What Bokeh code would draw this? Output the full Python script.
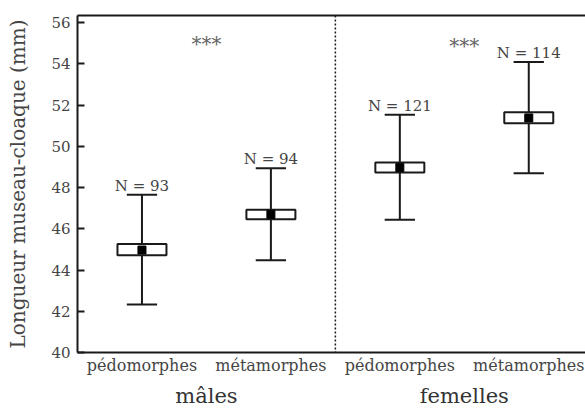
from bokeh.plotting import figure
from bokeh.models import (FixedTicker, LinearAxis, Span, Range1d, ColumnDataSource)
from bokeh.embed import file_html
from bokeh.resources import INLINE

# ---- data ----
categories = ["pédomorphes", "métamorphes", "pédomorphes", "métamorphes"]
groups = ["mâles", "femelles"]
means = [44.97, 46.70, 48.97, 51.38]
box_low = [44.72, 46.47, 48.73, 51.12]
box_high = [45.26, 46.93, 49.22, 51.66]
whisker_low = [42.33, 44.47, 46.44, 48.70]
whisker_high = [47.65, 48.94, 51.53, 54.10]
n_labels = ["N = 93", "N = 94", "N = 121", "N = 114"]
sig_labels = ["***", "***"]
sig_y = [55.2, 55.1]
y_ticks = [40, 42, 44, 46, 48, 50, 52, 54, 56]

FONT = "DejaVu Serif"
TXT = "#454545"
INK = "#1a1a1a"
CAP = 0.235
BOXW = 0.38

x_pos = [i + 0.5 for i in range(len(categories))]
group_pos = [1.0, 3.0]

src = ColumnDataSource(dict(
    x=x_pos, mean=means, blo=box_low, bhi=box_high,
    wlo=whisker_low, whi=whisker_high, n=n_labels,
    cl=[x - CAP / 2 for x in x_pos], cr=[x + CAP / 2 for x in x_pos],
    bl=[x - BOXW / 2 for x in x_pos], br=[x + BOXW / 2 for x in x_pos],
))

p = figure(width=585, height=410, output_backend="svg", toolbar_location=None,
           x_range=Range1d(0, 3.94), y_range=Range1d(40, 56.35),
           min_border_left=77, min_border_right=0, min_border_top=15,
           min_border_bottom=57, outline_line_color=None,
           background_fill_color="white", border_fill_color="white")
p.grid.visible = False

# left axis
ya = p.yaxis[0]
ya.ticker = FixedTicker(ticks=y_ticks)
ya.major_tick_in = 7
ya.major_tick_out = 0
ya.minor_tick_line_color = None
ya.axis_line_width = 2
ya.axis_line_color = INK
ya.major_tick_line_width = 2
ya.major_tick_line_color = INK
ya.major_label_text_font = FONT
ya.major_label_text_font_size = "15px"
ya.major_label_text_color = TXT
ya.major_label_standoff = 7
ya.axis_label = "Longueur museau-cloaque (mm)"
ya.axis_label_text_font = FONT
ya.axis_label_text_font_size = "20px"
ya.axis_label_text_font_style = "normal"
ya.axis_label_text_color = TXT
ya.axis_label_standoff = 18

# bottom axis (categories)
xa = p.xaxis[0]
xa.ticker = FixedTicker(ticks=x_pos)
xa.major_label_overrides = {x: c for x, c in zip(x_pos, categories)}
xa.major_tick_in = 0
xa.major_tick_out = 0
xa.minor_tick_line_color = None
xa.axis_line_width = 2
xa.axis_line_color = INK
xa.major_label_text_font = FONT
xa.major_label_text_font_size = "16px"
xa.major_label_text_color = TXT
xa.major_label_standoff = 3

# second bottom axis (groups)
ga = LinearAxis(ticker=FixedTicker(ticks=group_pos),
                major_label_overrides={x: g for x, g in zip(group_pos, groups)})
ga.axis_line_color = None
ga.major_tick_line_color = None
ga.major_tick_in = 0
ga.major_tick_out = 0
ga.minor_tick_line_color = None
ga.major_label_text_font = FONT
ga.major_label_text_font_size = "21px"
ga.major_label_text_color = "#333333"
ga.major_label_standoff = 6
p.add_layout(ga, "below")

# top frame line
ta = LinearAxis(ticker=FixedTicker(ticks=[]))
ta.axis_line_width = 2
ta.axis_line_color = INK
ta.major_tick_line_color = None
ta.minor_tick_line_color = None
ta.major_tick_in = 0
ta.major_tick_out = 0
ta.major_label_text_font_size = "0px"
ta.major_label_standoff = 0
p.add_layout(ta, "above")

# divider between sexes
p.add_layout(Span(location=2.0, dimension="height", line_color=INK,
                  line_width=1.5, line_dash="2 2"))

# whiskers and caps
p.segment(x0="x", y0="wlo", x1="x", y1="whi", source=src, line_color=INK, line_width=2)
p.segment(x0="cl", y0="wlo", x1="cr", y1="wlo", source=src, line_color=INK, line_width=2)
p.segment(x0="cl", y0="whi", x1="cr", y1="whi", source=src, line_color=INK, line_width=2)
# boxes
p.quad(left="bl", right="br", bottom="blo", top="bhi", source=src, fill_color="white",
       line_color=INK, line_width=2)
# means
p.scatter(x="x", y="mean", marker="square", size=8, source=src, fill_color="black",
          line_color="black")

# N labels
p.text(x="x", y="whi", text="n", source=src, text_font={"value": FONT},
       text_font_size={"value": "15px"}, text_color=TXT, text_align="center",
       text_baseline="alphabetic", y_offset=-9)

# significance stars
p.text(x=group_pos, y=sig_y, text=sig_labels, text_font={"value": FONT},
       text_font_size={"value": "20px"}, text_color="#666666", text_align="center",
       text_baseline="middle", y_offset=5)

open("out.html", "w").write(file_html(p, INLINE))
